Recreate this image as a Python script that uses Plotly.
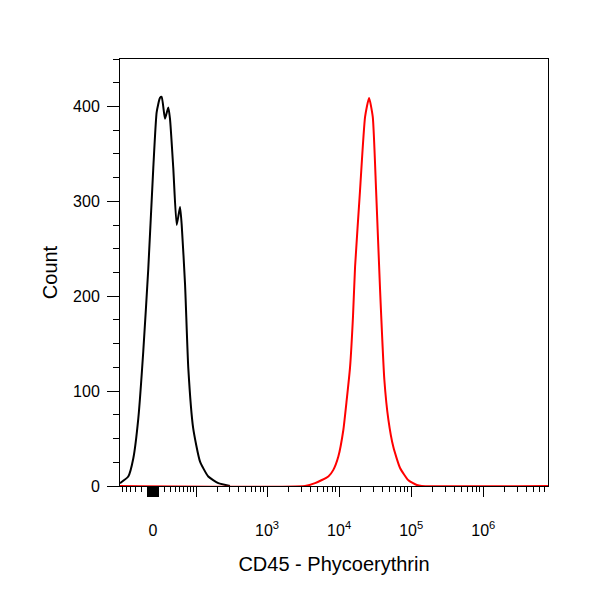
import numpy as np
import plotly.graph_objects as go

# biexponential-ish display scale (arcsinh), cofactor chosen to match the picture
COFACTOR = 52.4


def scale(v):
    return np.arcsinh(np.asarray(v, dtype=float) / COFACTOR)


# unstained / isotype control (black)
ctrl_pe = [-66, -45.8, -35.2, -25.5, -16.5, -7.9, 0.5, 6.2, 11.8, 14.8, 20.6, 26.6,
           29.9, 36.4, 43.6, 51.1, 55.1, 63.6, 72.5, 87.3, 111.6, 148.7, 207.9, 304]
ctrl_count = [3, 10, 29, 71, 142, 229, 335, 394, 409, 410, 387, 399,
              387, 335, 275, 294, 275, 212, 124, 61, 26, 10, 3, 0]

# CD45-PE stained (red)
cd45_pe = [-66, 3370, 4640, 7090, 8320, 9760, 11450, 12760, 14180, 15610, 16650,
           19530, 22920, 26040, 29310, 32580, 36990, 42420, 48240, 56570, 70060,
           91440, 119500, 140300, 7.9e6]
cd45_count = [0, 0, 3, 10, 17, 31, 59, 91, 125, 180, 231,
              312, 389, 409, 389, 312, 207, 112, 70, 41, 19,
              6, 1, 0, 0]

x_range = [-66, 7.9e6]
label_vals = [0, 1e3, 1e4, 1e5, 1e6]
label_text = ["0", "10<sup>3</sup>", "10<sup>4</sup>", "10<sup>5</sup>", "10<sup>6</sup>"]
# long ticks without a label: 100 and the dense run around zero
long_vals = [100, -9, -8, -7, -6, -5, -4, -3, -2, -1, 1, 2, 3, 4, 5, 6, 7, 8, 9]

minor_vals = [-60, -50, -40, -30, -20, -10] + list(range(10, 100, 10))
for dec in [100, 1e3, 1e4, 1e5, 1e6]:
    minor_vals += [m * dec for m in range(2, 10)]
minor_vals = [v for v in minor_vals if x_range[0] <= v <= x_range[1]]

font = "Arial, Liberation Sans, sans-serif"

fig = go.Figure()
fig.add_trace(go.Scatter(x=scale(ctrl_pe), y=ctrl_count, mode="lines",
                         line=dict(color="black", width=2, shape="spline", smoothing=0.5),
                         showlegend=False))
fig.add_trace(go.Scatter(x=scale(cd45_pe), y=cd45_count, mode="lines",
                         line=dict(color="#ff0000", width=2, shape="spline", smoothing=0.5),
                         showlegend=False))
# empty trace so the overlay axis with the unlabeled long ticks gets drawn
fig.add_trace(go.Scatter(x=[], y=[], xaxis="x2", showlegend=False, hoverinfo="skip"))

fig.update_layout(
    xaxis=dict(
        range=list(scale(x_range)),
        tickmode="array",
        tickvals=list(scale(label_vals)),
        ticktext=label_text,
        ticks="outside", ticklen=10, tickwidth=1, tickcolor="black",
        ticklabelstandoff=20,
        minor=dict(tickmode="array", tickvals=list(scale(minor_vals)),
                   ticks="outside", ticklen=5, tickwidth=1, tickcolor="black"),
        showline=True, mirror=True, linecolor="black", linewidth=1,
        showgrid=False, zeroline=False,
        tickfont=dict(family=font, size=16, color="black"),
        title=dict(text="CD45 - Phycoerythrin", standoff=18,
                   font=dict(family=font, size=20, color="black")),
    ),
    xaxis2=dict(
        overlaying="x", anchor="y", side="bottom",
        range=list(scale(x_range)),
        tickmode="array", tickvals=list(scale(long_vals)),
        ticks="outside", ticklen=10, tickwidth=1, tickcolor="black",
        showticklabels=False, showline=False, showgrid=False, zeroline=False,
    ),
    yaxis=dict(
        range=[0, 450],
        tickvals=[0, 100, 200, 300, 400],
        ticks="outside", ticklen=12, tickwidth=1, tickcolor="black",
        ticklabelstandoff=4,
        minor=dict(dtick=25, ticks="outside", ticklen=6, tickwidth=1, tickcolor="black"),
        showline=True, mirror=True, linecolor="black", linewidth=1,
        showgrid=False, zeroline=False,
        tickfont=dict(family=font, size=16, color="black"),
        title=dict(text="Count", standoff=10,
                   font=dict(family=font, size=20, color="black")),
    ),
    width=600, height=600,
    margin=dict(l=120, r=52, t=59, b=114),
    plot_bgcolor="white", paper_bgcolor="white",
)

# the page body has a default 8px margin; drop it so the figure sits at 0,0
fig.write_html("out.html", config={"displayModeBar": False},
               post_script="document.body.style.margin='0';")
